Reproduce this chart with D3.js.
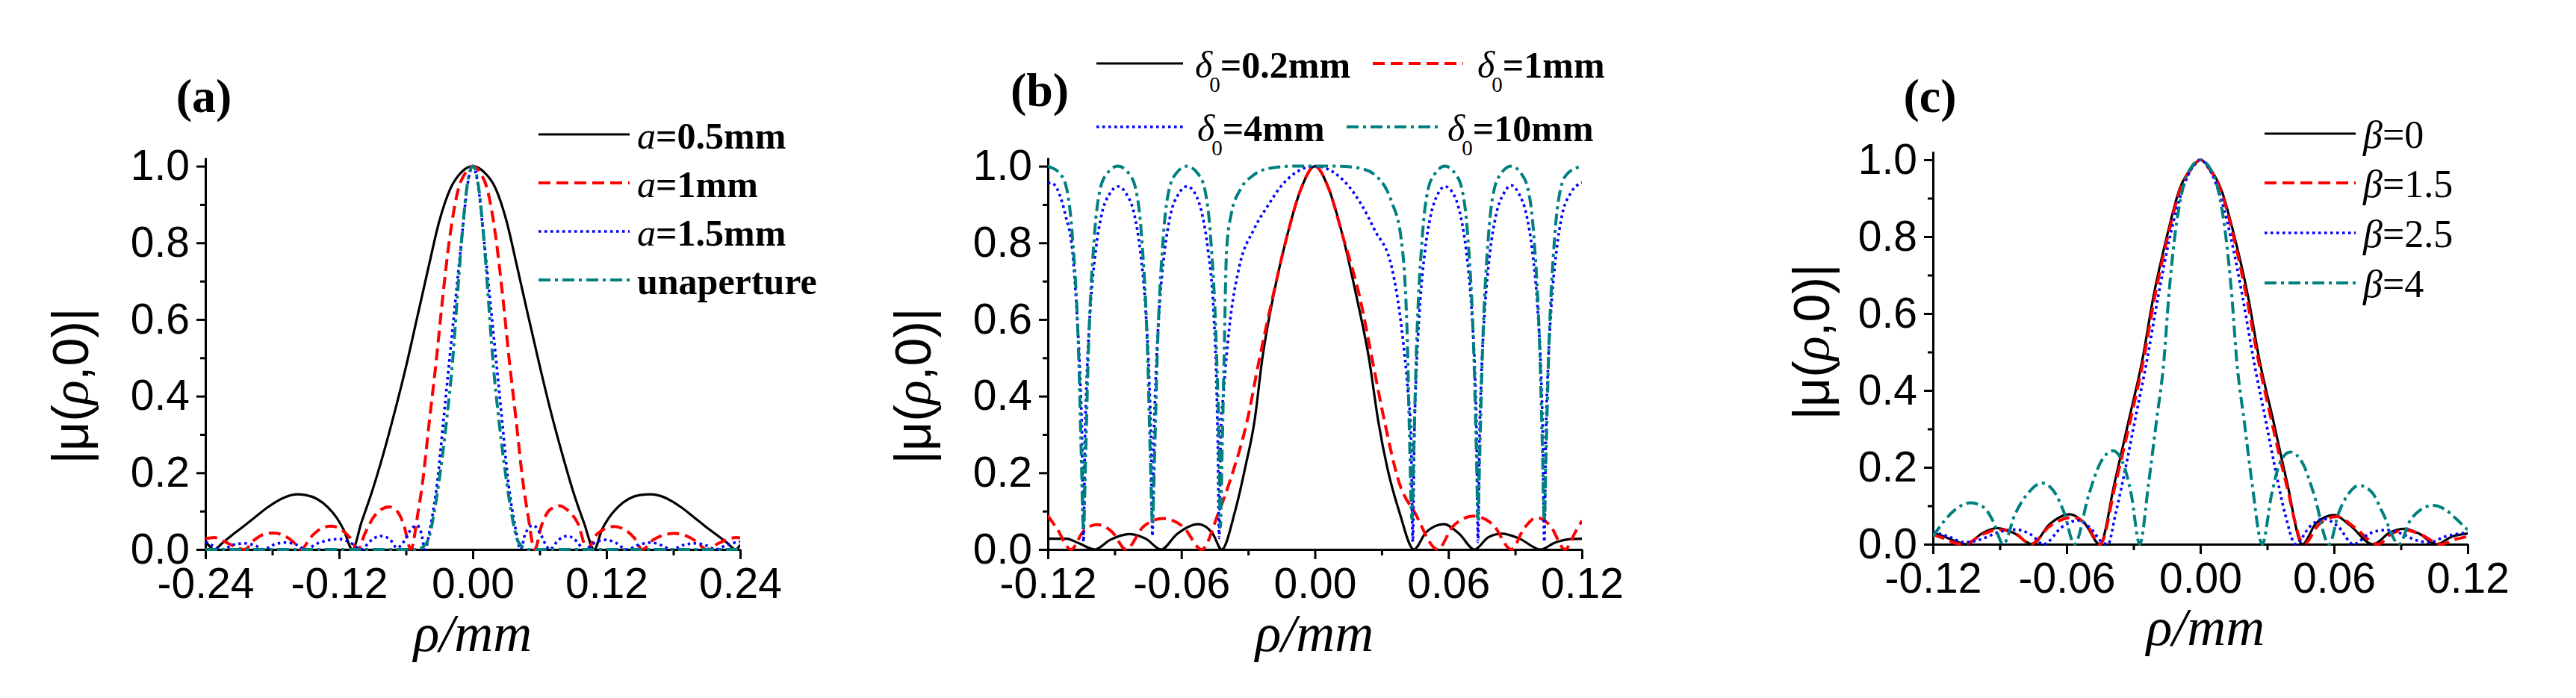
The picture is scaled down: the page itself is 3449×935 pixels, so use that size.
<!DOCTYPE html>
<html><head><meta charset="utf-8">
<script src="https://cdn.jsdelivr.net/npm/d3@7"></script>
<style>html,body{margin:0;padding:0;background:#fff;}svg{display:block;}</style>
</head><body>
<svg id="chart" width="3449" height="935"></svg>
<script>
// ---------- tick values ----------
const aXTicks = [-0.24, -0.12, 0, 0.12, 0.24];
const aXMinor = [-0.18, -0.06, 0.06, 0.18];
const bcXTicks = [-0.12, -0.06, 0, 0.06, 0.12];
const bcXMinor = [-0.09, -0.03, 0.03, 0.09];
const yTicks = [0, 0.2, 0.4, 0.6, 0.8, 1.0];
const yMinor = [0.1, 0.3, 0.5, 0.7, 0.9];

// ---------- panel (a) series ----------
const a05 = [[-0.24,0.022],[-0.232,0],[-0.225,0.016],[-0.215,0.04],[-0.205,0.062],[-0.195,0.085],[-0.185,0.108],[-0.175,0.127],[-0.165,0.14],[-0.158,0.144],[-0.15,0.142],[-0.14,0.132],[-0.13,0.11],[-0.122,0.082],[-0.116,0.052],[-0.108,0],
[-0.1,0.07],[-0.09,0.155],[-0.08,0.252],[-0.07,0.36],[-0.06,0.476],[-0.05,0.604],[-0.04,0.733],[-0.03,0.857],[-0.02,0.942],[-0.01,0.985],[0,1],
[0.01,0.985],[0.02,0.945],[0.03,0.86],[0.04,0.735],[0.05,0.606],[0.06,0.48],[0.07,0.36],[0.08,0.252],[0.09,0.152],[0.1,0.068],[0.109,0],
[0.116,0.052],[0.122,0.082],[0.13,0.11],[0.14,0.132],[0.15,0.142],[0.16,0.144],[0.168,0.14],[0.178,0.127],[0.188,0.108],[0.198,0.085],[0.208,0.062],[0.218,0.04],[0.228,0.018],[0.236,0],[0.24,0.012]];
const a1 = [[-0.24,0.027],[-0.232,0.031],[-0.224,0.022],[-0.214,0.008],[-0.205,0],[-0.196,0.025],[-0.187,0.04],[-0.179,0.043],[-0.17,0.037],[-0.162,0.022],[-0.154,0],[-0.146,0.03],[-0.137,0.053],[-0.127,0.061],[-0.118,0.052],[-0.11,0.03],[-0.103,0],[-0.097,0.04],[-0.09,0.08],[-0.083,0.103],[-0.075,0.111],[-0.068,0.1],[-0.062,0.065],[-0.0555,0],
[-0.0495,0.09],[-0.0452,0.172],[-0.039,0.334],[-0.0327,0.495],[-0.027,0.657],[-0.0205,0.818],[-0.013,0.94],[-0.006,0.985],[0,1],
[0.006,0.985],[0.013,0.94],[0.0205,0.818],[0.027,0.657],[0.0327,0.495],[0.039,0.334],[0.0452,0.172],[0.0495,0.09],[0.0555,0],
[0.062,0.065],[0.069,0.103],[0.078,0.114],[0.086,0.1],[0.094,0.07],[0.103,0],[0.11,0.035],[0.118,0.053],[0.127,0.06],[0.136,0.052],[0.145,0.03],[0.152,0],[0.162,0.025],[0.172,0.038],[0.181,0.042],[0.19,0.037],[0.2,0.022],[0.21,0],[0.22,0.015],[0.23,0.028],[0.237,0.031],[0.24,0.03]];
const a15 = [[-0.24,0.02],[-0.232,0.008],[-0.225,0],[-0.215,0.012],[-0.205,0.016],[-0.195,0.01],[-0.188,0],[-0.178,0.013],[-0.168,0.018],[-0.158,0.012],[-0.15,0],[-0.14,0.015],[-0.13,0.024],[-0.12,0.027],[-0.11,0.018],[-0.1,0],[-0.092,0.022],[-0.083,0.035],[-0.075,0.028],[-0.068,0.004],[-0.062,0.02],[-0.056,0.05],[-0.05,0.063],[-0.046,0.04],[-0.043,0],
[-0.038,0.06],[-0.035,0.11],[-0.032,0.172],[-0.0264,0.334],[-0.0209,0.495],[-0.0153,0.657],[-0.0097,0.818],[-0.0045,0.955],[0,1],
[0.0045,0.955],[0.0097,0.818],[0.0153,0.657],[0.0209,0.495],[0.0264,0.334],[0.032,0.172],[0.035,0.11],[0.038,0.06],[0.043,0],
[0.047,0.04],[0.054,0.063],[0.06,0.045],[0.066,0.01],[0.069,0],[0.077,0.025],[0.085,0.035],[0.093,0.022],[0.1,0],[0.11,0.018],[0.119,0.025],[0.128,0.018],[0.138,0],[0.15,0.013],[0.16,0.018],[0.17,0.01],[0.178,0],[0.19,0.012],[0.2,0.016],[0.21,0.01],[0.218,0],[0.228,0.012],[0.24,0.02]];
const aUn = [[-0.24,0],[-0.05,0],[-0.045,0.006],[-0.04,0.025],[-0.035,0.09],[-0.0306,0.172],[-0.0236,0.334],[-0.018,0.495],[-0.0139,0.657],[-0.0097,0.818],[-0.0045,0.96],[0,1],
[0.0045,0.96],[0.0097,0.818],[0.0139,0.657],[0.018,0.495],[0.0236,0.334],[0.0306,0.172],[0.035,0.09],[0.04,0.025],[0.045,0.006],[0.05,0],[0.24,0]];

// ---------- panel (b) series ----------
const b02 = [[-0.12,0.028],[-0.1117,0.028],[-0.106,0.016],[-0.0989,0],[-0.092,0.025],[-0.0832,0.04],[-0.076,0.028],[-0.0691,0],[-0.062,0.04],[-0.0525,0.066],[-0.046,0.042],[-0.0419,0],
[-0.036,0.097],[-0.0313,0.214],[-0.027,0.34],[-0.0237,0.495],[-0.0188,0.657],[-0.0125,0.818],[-0.0063,0.94],[0,1],
[0.0063,0.94],[0.0125,0.818],[0.0188,0.657],[0.0244,0.495],[0.0285,0.334],[0.0325,0.214],[0.038,0.097],[0.0445,0],
[0.05,0.045],[0.0579,0.066],[0.065,0.04],[0.0717,0],[0.078,0.032],[0.0841,0.041],[0.092,0.028],[0.1014,0],[0.108,0.018],[0.115,0.027],[0.12,0.028]];
const b1 = [[-0.12,0.088],[-0.116,0.055],[-0.1096,0],[-0.104,0.048],[-0.0979,0.065],[-0.091,0.045],[-0.0849,0],[-0.077,0.06],[-0.0682,0.081],[-0.059,0.058],[-0.0509,0],
[-0.0436,0.091],[-0.038,0.182],[-0.0305,0.334],[-0.025,0.495],[-0.019,0.657],[-0.0125,0.818],[-0.0063,0.94],[0,1],
[0.0063,0.94],[0.0125,0.818],[0.0202,0.657],[0.0258,0.495],[0.0313,0.334],[0.038,0.172],[0.045,0.095],[0.0552,0],
[0.062,0.06],[0.0714,0.087],[0.08,0.065],[0.0883,0],[0.094,0.055],[0.0997,0.083],[0.106,0.06],[0.1124,0],[0.117,0.045],[0.12,0.075]];
const b4 = [[-0.12,0.955],[-0.1186,0.957],[-0.115,0.93],[-0.112,0.87],[-0.109,0.78],[-0.107,0.62],[-0.1055,0.45],[-0.1047,0.3],[-0.104,0.02],[-0.1033,0.3],[-0.1025,0.45],[-0.101,0.62],[-0.0985,0.78],[-0.096,0.87],[-0.092,0.93],[-0.0885,0.947],[-0.085,0.93],[-0.081,0.87],[-0.0785,0.78],[-0.076,0.62],[-0.0745,0.45],[-0.0737,0.3],[-0.073,0.035],[-0.0723,0.3],[-0.0715,0.45],[-0.07,0.62],[-0.0675,0.78],[-0.065,0.87],[-0.061,0.93],[-0.0575,0.947],[-0.054,0.93],[-0.0505,0.87],[-0.048,0.78],[-0.0455,0.62],[-0.0443,0.45],[-0.0437,0.3],[-0.043,0.03],
[-0.0423,0.3],[-0.041,0.414],[-0.0385,0.576],[-0.034,0.737],[-0.0275,0.834],[-0.0209,0.899],[-0.0153,0.947],[-0.0084,0.984],[0,1],
[0.0084,0.984],[0.0153,0.947],[0.021,0.899],[0.0268,0.834],[0.0345,0.737],[0.039,0.576],[0.0418,0.414],[0.0432,0.3],[0.044,0.02],[0.0447,0.3],[0.0455,0.45],[0.047,0.62],[0.0495,0.78],[0.052,0.87],[0.0555,0.93],[0.0584,0.947],[0.062,0.93],[0.0655,0.87],[0.068,0.78],[0.0705,0.62],[0.072,0.45],[0.0727,0.3],[0.0733,0.02],[0.074,0.3],[0.0748,0.45],[0.0763,0.62],[0.0788,0.78],[0.0813,0.87],[0.085,0.93],[0.0882,0.95],[0.0915,0.93],[0.0952,0.87],[0.0977,0.78],[0.1002,0.62],[0.1017,0.45],[0.1024,0.3],[0.1031,0.02],[0.1038,0.3],[0.1046,0.45],[0.1061,0.62],[0.1086,0.78],[0.111,0.87],[0.115,0.93],[0.12,0.957]];
const b10 = [[-0.12,1.0],[-0.1145,0.98],[-0.1115,0.94],[-0.109,0.818],[-0.1061,0.495],[-0.105,0.25],[-0.104,0.05],[-0.103,0.25],[-0.1019,0.495],[-0.0991,0.818],[-0.0965,0.94],[-0.0935,0.98],[-0.0885,1.0],[-0.0835,0.98],[-0.0805,0.94],[-0.0779,0.818],[-0.0751,0.495],[-0.074,0.25],[-0.073,0.07],[-0.072,0.25],[-0.0709,0.495],[-0.0681,0.818],[-0.0655,0.94],[-0.0625,0.98],[-0.0575,1.0],[-0.0525,0.98],[-0.0495,0.94],[-0.0469,0.818],[-0.0441,0.495],[-0.043,0.25],[-0.0425,0.058],
[-0.0417,0.25],[-0.0408,0.5],[-0.0397,0.78],[-0.0376,0.875],[-0.0334,0.94],[-0.028,0.975],[-0.02,0.995],[-0.01,1.0],[0,1.0],
[0.01,1.0],[0.02,0.995],[0.028,0.972],[0.0345,0.907],[0.0386,0.818],[0.0414,0.576],[0.0425,0.3],[0.0436,0.08],[0.0444,0.25],[0.0455,0.495],[0.0483,0.818],[0.0509,0.94],[0.0539,0.98],[0.0585,1.0],[0.0631,0.98],[0.0661,0.94],[0.0687,0.818],[0.0715,0.495],[0.0726,0.25],[0.0733,0.08],[0.0741,0.25],[0.0752,0.495],[0.078,0.818],[0.0806,0.94],[0.0836,0.98],[0.0882,1.0],[0.0928,0.98],[0.0958,0.94],[0.0984,0.818],[0.1012,0.495],[0.1023,0.25],[0.1031,0.075],[0.1039,0.25],[0.105,0.495],[0.1078,0.818],[0.1104,0.94],[0.1134,0.98],[0.12,1.0]];

// ---------- panel (c) series ----------
const c0 = [[-0.12,0.03],[-0.115,0.02],[-0.11,0.008],[-0.105,0],[-0.098,0.028],[-0.0913,0.042],[-0.084,0.03],[-0.0753,0],[-0.068,0.05],[-0.0586,0.078],[-0.052,0.055],[-0.0451,0],
[-0.0385,0.159],[-0.0322,0.32],[-0.026,0.48],[-0.0211,0.642],[-0.0149,0.803],[-0.0093,0.924],[-0.0038,0.98],[0,1],
[0.0038,0.98],[0.0093,0.924],[0.0152,0.803],[0.0215,0.642],[0.0265,0.48],[0.0328,0.32],[0.039,0.159],[0.0458,0],
[0.052,0.055],[0.06,0.076],[0.067,0.05],[0.0775,0],[0.085,0.03],[0.0915,0.04],[0.098,0.028],[0.106,0],[0.113,0.02],[0.12,0.028]];
const c15 = [[-0.12,0.025],[-0.115,0.015],[-0.11,0.003],[-0.106,0],[-0.098,0.025],[-0.0905,0.038],[-0.083,0.028],[-0.076,0],[-0.068,0.045],[-0.0572,0.07],[-0.051,0.05],[-0.045,0],
[-0.038,0.159],[-0.0315,0.32],[-0.0255,0.48],[-0.0205,0.642],[-0.0145,0.803],[-0.009,0.924],[-0.0035,0.98],[0,1],
[0.0035,0.98],[0.009,0.924],[0.0148,0.803],[0.0208,0.642],[0.026,0.48],[0.032,0.32],[0.0385,0.159],[0.0465,0],
[0.053,0.05],[0.0613,0.072],[0.069,0.045],[0.0797,0],[0.086,0.028],[0.092,0.037],[0.099,0.025],[0.108,0],[0.114,0.012],[0.12,0.02]];
const c25 = [[-0.12,0.032],[-0.113,0.02],[-0.106,0.005],[-0.1,0.01],[-0.09,0.032],[-0.083,0.038],[-0.076,0.025],[-0.0704,0],[-0.062,0.045],[-0.0551,0.062],[-0.049,0.04],[-0.044,0.005],[-0.0415,0],
[-0.038,0.08],[-0.0335,0.2],[-0.0294,0.32],[-0.0239,0.48],[-0.019,0.642],[-0.0135,0.803],[-0.0079,0.924],[-0.003,0.985],[0,1],
[0.003,0.985],[0.0079,0.924],[0.0135,0.803],[0.019,0.642],[0.0239,0.48],[0.0294,0.32],[0.0335,0.2],[0.038,0.08],[0.0428,0],
[0.049,0.045],[0.0551,0.066],[0.062,0.045],[0.0687,0],[0.076,0.028],[0.0835,0.037],[0.09,0.028],[0.097,0.01],[0.103,0.005],[0.11,0.02],[0.12,0.03]];
const c4 = [[-0.12,0.02],[-0.115,0.06],[-0.11,0.09],[-0.103,0.108],[-0.097,0.095],[-0.093,0.06],[-0.0885,0],[-0.083,0.08],[-0.077,0.135],[-0.0711,0.159],[-0.066,0.14],[-0.061,0.08],[-0.0565,0],[-0.05,0.13],[-0.045,0.21],[-0.0392,0.243],[-0.035,0.215],[-0.031,0.13],[-0.0272,0],
[-0.0232,0.159],[-0.0197,0.32],[-0.0163,0.48],[-0.0142,0.642],[-0.0114,0.803],[-0.0079,0.924],[-0.0035,0.985],[0,1.0],
[0.0035,0.985],[0.0079,0.924],[0.0114,0.803],[0.0142,0.642],[0.0163,0.48],[0.0197,0.32],[0.0232,0.159],[0.0278,0],
[0.032,0.13],[0.036,0.215],[0.0403,0.24],[0.046,0.21],[0.051,0.13],[0.0578,0],[0.062,0.08],[0.067,0.135],[0.0712,0.153],[0.077,0.135],[0.082,0.08],[0.0892,0],[0.094,0.06],[0.099,0.09],[0.1045,0.101],[0.11,0.09],[0.115,0.065],[0.12,0.037]];

// ---------- legend labels ----------
const aLegend = [[{t:"a",i:1},{t:"=0.5mm"}],[{t:"a",i:1},{t:"=1mm"}],[{t:"a",i:1},{t:"=1.5mm"}],[{t:"unaperture"}]];
const bLegend = [[{t:"δ",i:1},{t:"0",sub:1},{t:"=0.2mm"}],[{t:"δ",i:1},{t:"0",sub:1},{t:"=1mm"}],[{t:"δ",i:1},{t:"0",sub:1},{t:"=4mm"}],[{t:"δ",i:1},{t:"0",sub:1},{t:"=10mm"}]];
const cLegend = [[{t:"β",i:1},{t:"=0"}],[{t:"β",i:1},{t:"=1.5"}],[{t:"β",i:1},{t:"=2.5"}],[{t:"β",i:1},{t:"=4"}]];
const panelLabels = ["(a)", "(b)", "(c)"];

// ---------- styles / layout ----------
const SERIF = "'Liberation Serif','Times New Roman',serif";
const SANS = "'Liberation Sans',Arial,sans-serif";
const TICK_FONT = 57;
const styles = [
  {color:"#000000", width:3.2, dash:null},
  {color:"#ff0000", width:4, dash:"16,8"},
  {color:"#0000ff", width:3.6, dash:"3.5,4.5"},
  {color:"#008080", width:4, dash:"16,6,4,6"}
];
const YMAX = 1.022;

const panels = [
  {id:"a", left:275, right:991, bottom:736, top1:222.6, xDomain:[-0.24,0.24], xTicks:aXTicks, xMinor:aXMinor,
   series:[a05,a1,a15,aUn], legend:aLegend, legendWeight:"bold", legendSize:50,
   legendItems:[{x0:721,x1:843,tx:853,y:180},{x0:721,x1:843,tx:853,y:245},{x0:721,x1:843,tx:853,y:310},{x0:721,x1:843,tx:853,y:375}],
   label:[273,150], yTitle:[94,517], xTitle:[633,872]},
  {id:"b", left:1403, right:2118, bottom:736, top1:222.6, xDomain:[-0.12,0.12], xTicks:bcXTicks, xMinor:bcXMinor,
   series:[b02,b1,b4,b10], legend:bLegend, legendWeight:"bold", legendSize:50,
   legendItems:[{x0:1468,x1:1584,tx:1600,y:85},{x0:1838,x1:1959,tx:1978,y:85},{x0:1468,x1:1586,tx:1603,y:170},{x0:1803,x1:1925,tx:1938,y:170}],
   label:[1392,142], yTitle:[1222,517], xTitle:[1760,872]},
  {id:"c", left:2588, right:3304, bottom:729, top1:214, xDomain:[-0.12,0.12], xTicks:bcXTicks, xMinor:bcXMinor,
   series:[c0,c15,c25,c4], legend:cLegend, legendWeight:"normal", legendSize:52,
   legendItems:[{x0:3032,x1:3154,tx:3164,y:179},{x0:3032,x1:3154,tx:3164,y:245},{x0:3032,x1:3154,tx:3164,y:312},{x0:3032,x1:3154,tx:3164,y:379}],
   label:[2584,150], yTitle:[2425,458], xTitle:[2953,864]}
];

const svg = d3.select("#chart");
const defs = svg.append("defs");

function styleAxis(g, size) {
  g.attr("font-family", SANS).attr("font-size", size);
  g.selectAll("path.domain").attr("stroke", "#000").attr("stroke-width", 3);
  g.selectAll(".tick line").attr("stroke", "#000").attr("stroke-width", 3);
  g.selectAll(".tick text").attr("fill", "#000");
}

panels.forEach((p, pi) => {
  const x = d3.scaleLinear().domain(p.xDomain).range([p.left, p.right]);
  const unit = p.bottom - p.top1;
  const y = d3.scaleLinear().domain([0, YMAX]).range([p.bottom, p.bottom - YMAX * unit]);

  // axes (drawn first so curves lying on zero cover the axis line)
  const gy = svg.append("g").attr("transform", `translate(${p.left},0)`);
  gy.call(d3.axisLeft(y).tickValues(yMinor).tickSize(7).tickSizeOuter(0).tickFormat(""));
  gy.select("path.domain").remove();
  const gy2 = svg.append("g").attr("transform", `translate(${p.left},0)`);
  gy2.call(d3.axisLeft(y).tickValues(yTicks).tickSize(12).tickSizeOuter(0).tickPadding(9).tickFormat(d => d.toFixed(1)));
  styleAxis(gy, TICK_FONT); styleAxis(gy2, TICK_FONT);

  const gx = svg.append("g").attr("transform", `translate(0,${p.bottom})`);
  gx.call(d3.axisBottom(x).tickValues(p.xMinor).tickSize(8).tickSizeOuter(0).tickFormat(""));
  gx.select("path.domain").remove();
  const gx2 = svg.append("g").attr("transform", `translate(0,${p.bottom})`);
  gx2.call(d3.axisBottom(x).tickValues(p.xTicks).tickSize(13).tickSizeOuter(0).tickPadding(12).tickFormat(d => d.toFixed(2)));
  styleAxis(gx, TICK_FONT); styleAxis(gx2, TICK_FONT);

  // clip
  const clipId = "clip-" + p.id;
  defs.append("clipPath").attr("id", clipId).append("rect")
    .attr("x", p.left).attr("y", y(YMAX) - 4)
    .attr("width", p.right - p.left).attr("height", p.bottom - y(YMAX) + 8);

  const line = d3.line().x(d => x(d[0])).y(d => y(d[1])).curve(d3.curveMonotoneX);
  const gc = svg.append("g").attr("clip-path", `url(#${clipId})`);
  p.series.forEach((s, i) => {
    gc.append("path").attr("d", line(s)).attr("fill", "none")
      .attr("stroke", styles[i].color).attr("stroke-width", styles[i].width)
      .attr("stroke-dasharray", styles[i].dash).attr("stroke-linejoin", "round");
  });

  // legend
  p.legendItems.forEach((it, i) => {
    svg.append("line").attr("x1", it.x0).attr("x2", it.x1).attr("y1", it.y).attr("y2", it.y)
      .attr("stroke", styles[i].color).attr("stroke-width", styles[i].width)
      .attr("stroke-dasharray", styles[i].dash);
    const t = svg.append("text").attr("x", it.tx).attr("y", it.y + 19)
      .attr("font-family", SERIF).attr("font-size", p.legendSize).attr("font-weight", p.legendWeight).attr("fill", "#000");
    let shifted = false;
    p.legend[i].forEach(part => {
      const s = t.append("tspan").text(part.t);
      if (part.i) s.attr("font-style", "italic").attr("font-weight", "normal");
      if (part.sub) { s.attr("font-size", 29).attr("font-weight", "normal").attr("dy", 19).attr("dx", -4); shifted = true; }
      else if (shifted) { s.attr("dy", -19); shifted = false; }
    });
  });

  // panel label
  svg.append("text").attr("x", p.label[0]).attr("y", p.label[1]).attr("text-anchor", "middle")
    .attr("font-family", SERIF).attr("font-weight", "bold").attr("font-size", 64).text(panelLabels[pi]);

  // y title
  const yt = svg.append("text").attr("transform", `translate(${p.yTitle[0]},${p.yTitle[1]}) rotate(-90)`)
    .attr("text-anchor", "middle").attr("dominant-baseline", "central")
    .attr("font-family", SANS).attr("font-size", 68).attr("fill", "#000");
  yt.append("tspan").text("|μ(");
  yt.append("tspan").attr("font-family", SERIF).attr("font-style", "italic").text("ρ");
  yt.append("tspan").text(",0)|");

  // x title
  svg.append("text").attr("x", p.xTitle[0]).attr("y", p.xTitle[1]).attr("text-anchor", "middle")
    .attr("font-family", SERIF).attr("font-style", "italic").attr("font-size", 72).attr("fill", "#000").text("ρ/mm");
});
</script>
</body></html>
